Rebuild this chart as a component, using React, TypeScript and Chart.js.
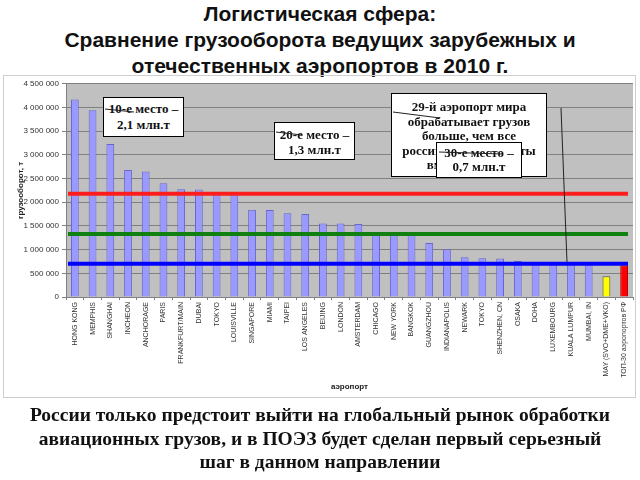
import React, { useEffect, useRef } from "react";
import { Chart, registerables } from "chart.js";

Chart.register(...registerables);

const categories = [
  "HONG KONG", "MEMPHIS", "SHANGHAI", "INCHEON", "ANCHORAGE", "PARIS",
  "FRANKFURT/MAIN", "DUBAI", "TOKYO", "LOUISVILLE", "SINGAPORE", "MIAMI",
  "TAIPEI", "LOS ANGELES", "BEIJING", "LONDON", "AMSTERDAM", "CHICAGO",
  "NEW YORK", "BANGKOK", "GUANGZHOU", "INDIANAPOLIS", "NEWARK", "TOKYO",
  "SHENZHEN, CN", "OSAKA", "DOHA", "LUXEMBOURG", "KUALA LUMPUR", "MUMBAI, IN",
  "MAY (SVO+DME+VKO)", "ТОП-30 аэропортов РФ",
];

const cargoValues = [
  4170000, 3940000, 3230000, 2680000, 2650000, 2400000,
  2275000, 2270000, 2170000, 2165000, 1840000, 1835000,
  1770000, 1750000, 1550000, 1550000, 1540000, 1330000,
  1330000, 1310000, 1140000, 1010000, 840000, 820000,
  810000, 760000, 740000, 720000, 710000, 700000,
  440000, 670000,
];

const barFill = [
  ...Array(30).fill("#9999ff"), "#ffff00", "#ff0000",
];
const barBorder = [
  ...Array(30).fill("#6666cc"), "#555533", "#aa0000",
];

const refValues = [2180000, 1330000, 700000];
const refColors = ["#ff1c1c", "#108010", "#0000ff"];

const yMin = 0;
const yMax = 4500000;
const yStep = 500000;

const titleLines = [
  "Логистическая сфера:",
  "Сравнение грузооборота ведущих зарубежных и",
  "отечественных аэропортов в 2010 г.",
];

const footerLines = [
  "России только предстоит выйти на глобальный рынок обработки",
  "авиационных грузов, и в ПОЭЗ будет сделан первый серьезный",
  "шаг в данном направлении",
];

const fmt = (v: number) => String(v).replace(/\B(?=(\d{3})+(?!\d))/g, " ");

const plotBg = {
  id: "plotBg",
  beforeDraw(chart: any) {
    const { ctx, chartArea } = chart;
    ctx.save();
    ctx.fillStyle = "#c0c0c0";
    ctx.fillRect(chartArea.left, chartArea.top, chartArea.right - chartArea.left, chartArea.bottom - chartArea.top);
    ctx.restore();
  },
};

const refLines = {
  id: "refLines",
  afterDatasetsDraw(chart: any) {
    const { ctx, chartArea, scales } = chart;
    ctx.save();
    ctx.lineWidth = 4;
    refValues.forEach((v, i) => {
      const y = scales.y.getPixelForValue(v);
      ctx.strokeStyle = refColors[i];
      ctx.beginPath();
      ctx.moveTo(chartArea.left + 2, y);
      ctx.lineTo(chartArea.right - 5, y);
      ctx.stroke();
    });
    ctx.restore();
  },
};

const boxBase: React.CSSProperties = {
  position: "absolute",
  background: "#ffffff",
  border: "1px solid #000",
  boxSizing: "border-box",
  fontFamily: "'Liberation Serif', 'DejaVu Serif', serif",
  fontWeight: "bold",
  fontSize: "13px",
  color: "#111",
  textAlign: "center",
  whiteSpace: "nowrap",
  overflow: "hidden",
};

export default function App() {
  const canvasRef = useRef<HTMLCanvasElement | null>(null);

  useEffect(() => {
    if (!canvasRef.current) return;
    const chart = new Chart(canvasRef.current, {
      type: "bar",
      data: {
        labels: categories,
        datasets: [
          {
            data: cargoValues,
            backgroundColor: barFill,
            borderColor: barBorder,
            borderWidth: 1,
            barPercentage: 0.44,
            categoryPercentage: 1,
          },
        ],
      },
      options: {
        animation: false,
        responsive: false,
        layout: { padding: { top: 6, right: 2, left: 0, bottom: 0 } },
        plugins: { legend: { display: false }, tooltip: { enabled: false } },
        scales: {
          x: {
            offset: true,
            grid: { drawOnChartArea: false, drawTicks: true, tickLength: 3, color: "#808080", offset: true },
            border: { color: "#808080" },
            ticks: {
              autoSkip: false,
              maxRotation: 90,
              minRotation: 90,
              padding: 2,
              color: "#333",
              font: { size: 7, family: "'Liberation Sans', Arial, sans-serif" },
            },
            title: {
              display: true,
              text: "аэропорт",
              color: "#222",
              font: { size: 8, weight: "bold", family: "'Liberation Sans', Arial, sans-serif" },
              padding: { top: 0, bottom: 5 },
            },
            afterFit: (s: any) => { s.height = 100; },
          },
          y: {
            min: yMin,
            max: yMax,
            ticks: {
              stepSize: yStep,
              padding: 3,
              color: "#333",
              font: { size: 8, family: "'Liberation Sans', Arial, sans-serif" },
              callback: (v: any) => fmt(Number(v)),
            },
            grid: { color: "#808080", tickLength: 4 },
            border: { color: "#808080" },
            title: {
              display: true,
              text: "грузооборот, т",
              color: "#222",
              font: { size: 8, weight: "bold", family: "'Liberation Sans', Arial, sans-serif" },
              padding: { top: 12, bottom: 0 },
            },
            afterFit: (s: any) => { s.width = 62; },
          },
        },
      } as any,
      plugins: [plotBg, refLines],
    });
    return () => chart.destroy();
  }, []);

  return (
    <div style={{ position: "absolute", left: 0, top: 0, width: 640, height: 480, background: "#fff", overflow: "hidden" }}>
      <div
        style={{
          position: "absolute", left: 0, top: 1, width: 640, textAlign: "center",
          fontFamily: "'Liberation Sans', Arial, sans-serif", fontWeight: "bold", fontSize: "21px",
          lineHeight: "26px", color: "#111", whiteSpace: "nowrap",
        }}
      >
        {titleLines.map((t, i) => <div key={i}>{t}</div>)}
      </div>

      <div
        style={{
          position: "absolute", left: 3, top: 75, width: 633, height: 323,
          border: "1px solid #cfcfcf", boxSizing: "border-box",
        }}
      >
        <canvas ref={canvasRef} width={631} height={321} style={{ display: "block", width: 631, height: 321 }} />
      </div>

      <div style={{ ...boxBase, left: 103, top: 97, width: 81, height: 40, lineHeight: "16px", paddingTop: 3 }}>
        <div>10-е место –</div>
        <div>2,1 млн.т</div>
      </div>
      <div style={{ ...boxBase, left: 274, top: 122, width: 81, height: 38, lineHeight: "15px", paddingTop: 4 }}>
        <div>20-е место –</div>
        <div>1,3 млн.т</div>
      </div>
      <div style={{ ...boxBase, left: 391, top: 93, width: 156, height: 84, lineHeight: "14.5px", paddingTop: 6 }}>
        <div>29-й аэропорт мира</div>
        <div>обрабатывает грузов</div>
        <div>больше, чем все</div>
        <div>российские аэропорты</div>
        <div>вместе взятые</div>
      </div>
      <div style={{ ...boxBase, left: 436, top: 142, width: 86, height: 36, lineHeight: "14px", paddingTop: 3 }}>
        <div>30-е место –</div>
        <div>0,7 млн.т</div>
      </div>

      <svg width={640} height={480} style={{ position: "absolute", left: 0, top: 0, pointerEvents: "none" }}>
        <g stroke="#222" strokeWidth={1} fill="none">
          <line x1={105} y1={109} x2={134} y2={112} />
          <line x1={276} y1={132} x2={302} y2={135} />
          <line x1={393} y1={112} x2={440} y2={118} />
          <line x1={439} y1={152} x2={502} y2={154} />
          <line x1={561} y1={108} x2={567} y2={262} />
        </g>
      </svg>

      <div
        style={{
          position: "absolute", left: 0, top: 403, width: 640, textAlign: "center",
          fontFamily: "'Liberation Serif', 'Times New Roman', serif", fontWeight: "bold", fontSize: "19.5px",
          lineHeight: "23.5px", color: "#111", whiteSpace: "nowrap",
        }}
      >
        {footerLines.map((t, i) => <div key={i}>{t}</div>)}
      </div>
    </div>
  );
}
